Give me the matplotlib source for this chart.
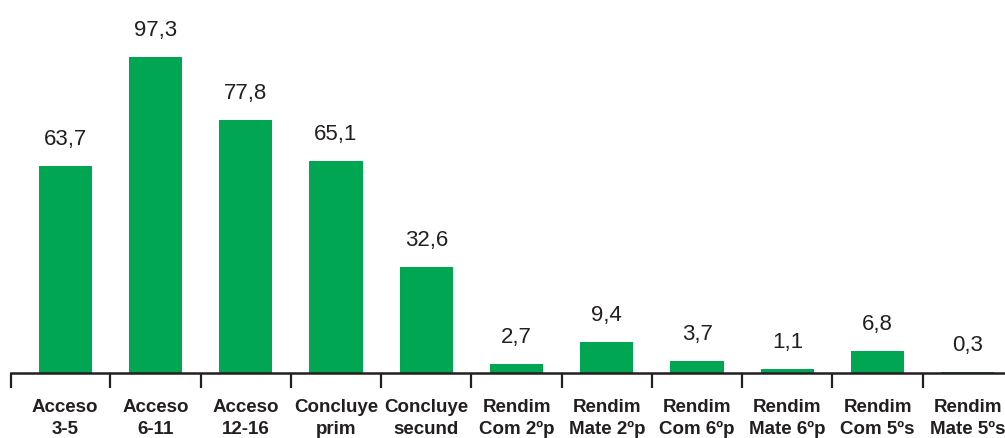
import matplotlib
matplotlib.use("Agg")
import matplotlib.pyplot as plt
from matplotlib import font_manager

# data
categories = ["Acceso\n3-5", "Acceso\n6-11", "Acceso\n12-16", "Concluye\nprim",
              "Concluye\nsecund", "Rendim\nCom 2ºp", "Rendim\nMate 2ºp",
              "Rendim\nCom 6ºp", "Rendim\nMate 6ºp", "Rendim\nCom 5ºs",
              "Rendim\nMate 5ºs"]
values = [63.7, 97.3, 77.8, 65.1, 32.6, 2.7, 9.4, 3.7, 1.1, 6.8, 0.3]

GREEN = "#00a651"
TEXT = "#231f20"

installed = {f.name for f in font_manager.fontManager.ttflist}
family = ["Liberation Sans Narrow"] if "Liberation Sans Narrow" in installed else []
family += ["Liberation Sans", "DejaVu Sans"]
plt.rcParams["font.family"] = family

fig = plt.figure(figsize=(10.05, 4.38), dpi=100)
# axes spans from x=11px to beyond the right edge, baseline at y=373px
ax = fig.add_axes([11 / 1005, 65 / 438, 1002 / 1005, 373 / 438])

x = list(range(len(values)))
ax.bar(x, values, width=0.59, color=GREEN, zorder=2)

for xi, v in zip(x, values):
    ax.text(xi, v + 5.0, f"{v:.1f}".replace(".", ","), ha="center", va="bottom",
            fontsize=16, color=TEXT)

ax.set_xlim(-0.6, 10.5)
ax.set_ylim(0, 114.8)

# ticks on category boundaries, labels at bar centres
ax.set_xticks([-0.6] + [i + 0.5 for i in range(10)])
ax.set_xticklabels([])
ax.tick_params(axis="x", which="major", direction="out", length=11, width=1.6,
               color=TEXT)
ax.set_xticks(x, minor=True)
ax.set_xticklabels(categories, minor=True, fontsize=13.5, fontweight="bold",
                   color=TEXT, linespacing=1.35)
ax.tick_params(axis="x", which="minor", length=0, pad=19)

ax.set_yticks([])
for side in ["top", "right", "left"]:
    ax.spines[side].set_visible(False)
ax.spines["bottom"].set_linewidth(1.8)
ax.spines["bottom"].set_color(TEXT)

fig.savefig("out.png", dpi=100)
